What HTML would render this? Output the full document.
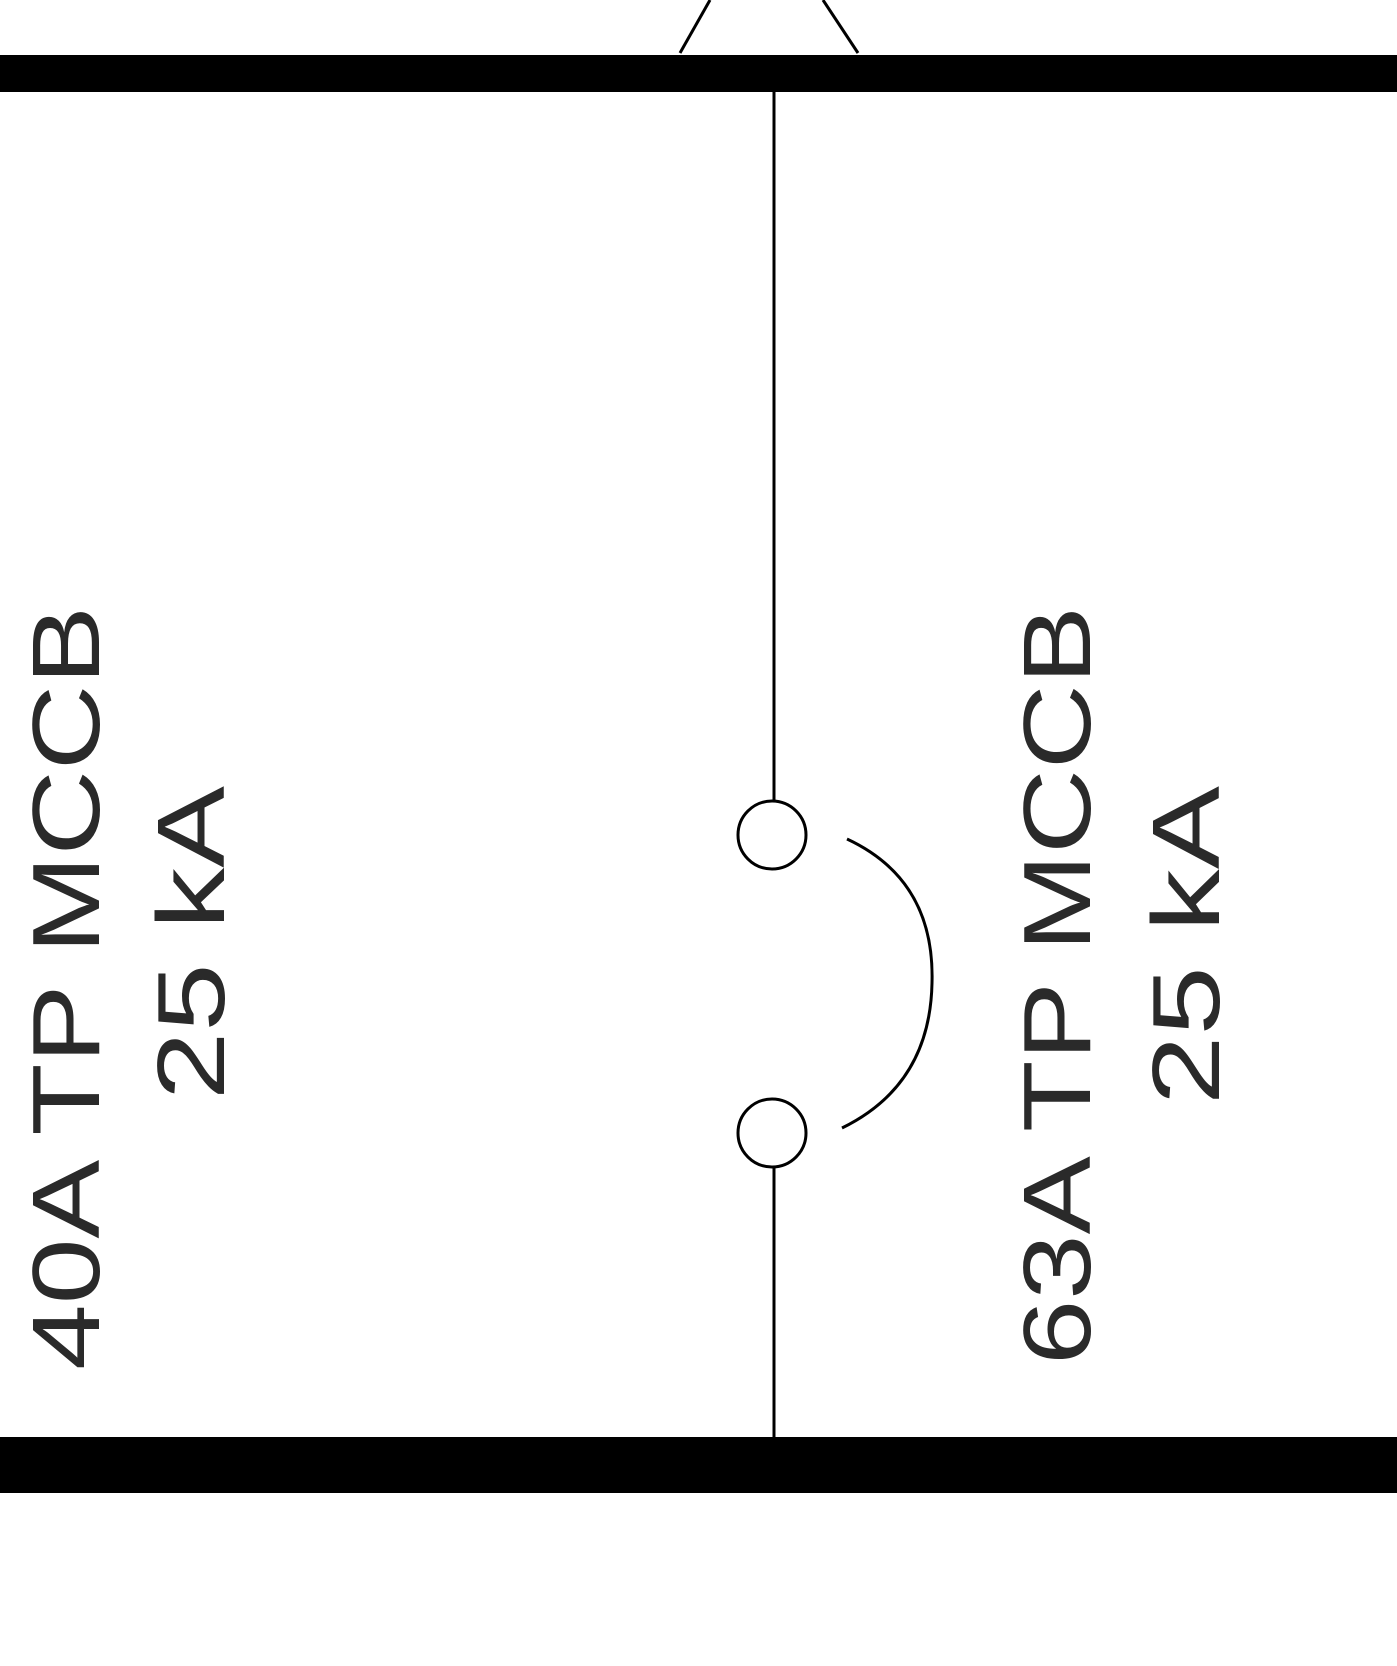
<!DOCTYPE html>
<html><head><meta charset="utf-8"><style>html,body{margin:0;padding:0;background:#fff}svg{display:block}</style></head>
<body>
<svg width="1397" height="1666" viewBox="0 0 1397 1666">
<rect x="0" y="0" width="1397" height="1666" fill="#fff"/>
<rect x="0" y="55" width="1397" height="37" fill="#000"/>
<rect x="0" y="1437" width="1397" height="56" fill="#000"/>
<g stroke="#000" stroke-width="3" fill="none">
<line x1="680" y1="53" x2="710" y2="0"/>
<line x1="858" y1="53" x2="823" y2="0"/>
<line x1="774" y1="92" x2="774" y2="800"/>
<circle cx="772" cy="835" r="34"/>
<circle cx="772" cy="1133" r="34"/>
<line x1="774" y1="1167" x2="774" y2="1437"/>
<path d="M847 839 Q935 880 932 983 Q930 1085 842 1128"/>
</g>
<g font-family="Liberation Sans, sans-serif" font-size="96" fill="#2a2a2a">
<text transform="translate(99,1370) rotate(-90)" textLength="764" lengthAdjust="spacingAndGlyphs">40A TP MCCB</text>
<text transform="translate(224,1100) rotate(-90)" textLength="314" lengthAdjust="spacingAndGlyphs">25 kA</text>
<text transform="translate(1090,1365) rotate(-90)" textLength="759" lengthAdjust="spacingAndGlyphs">63A TP MCCB</text>
<text transform="translate(1219,1105) rotate(-90)" textLength="319" lengthAdjust="spacingAndGlyphs">25 kA</text>
</g>
</svg>
</body></html>
